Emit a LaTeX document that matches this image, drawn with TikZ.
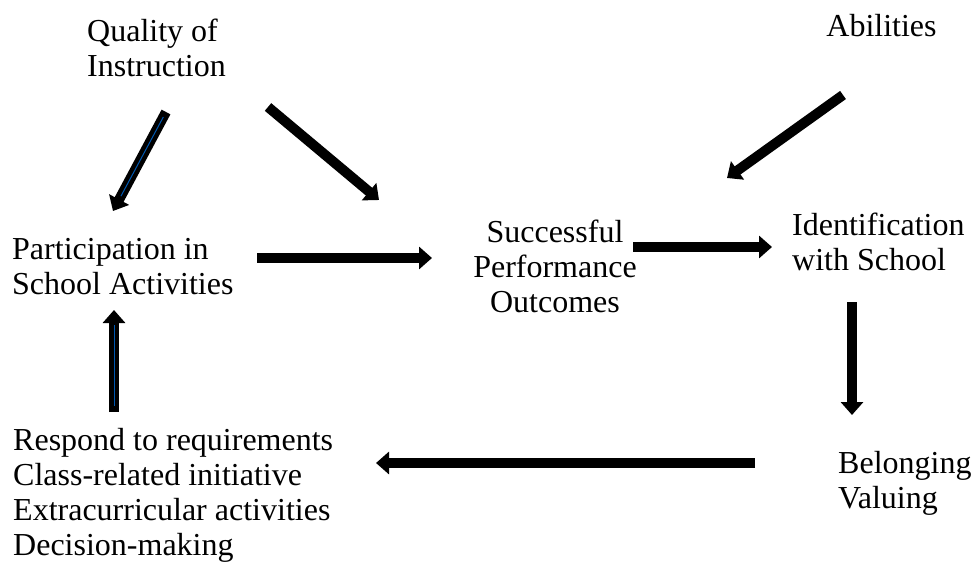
\documentclass[tikz,border=0pt]{standalone}
\usepackage{fontspec}
\setmainfont{Liberation Serif}
\usetikzlibrary{arrows.meta,calc}

\begin{document}
\begin{tikzpicture}[x=1pt,y=-1pt]

      \useasboundingbox (0,0) rectangle (973,567);

      \begin{scope}[every node/.style={inner sep=0,align=left,anchor=west,font=\fontsize{32}{35}\selectfont}]
        \node (quality)  at (87,47.5) {Quality of\\Instruction};
        \node[anchor=center] (abilities) at (881.5,26) {Abilities};
        \node (particip) at (12,266.5) {Participation in\\School Activities};
        \node[align=center,anchor=center] (outcomes) at (555,266.5) {Successful\\Performance\\Outcomes};
        \node (ident) at (792,241.5) {Identification\\with School};
        \node (belong) at (838,483.5) {Belonging\\Valuing};
        \node (respond) at (13,495) {Respond to requirements\\Class-related initiative\\Extracurricular activities\\Decision-making};
      \end{scope}

      % arrow ends
      \coordinate (q1) at (166,112);
      \coordinate (q2) at (113,211);
      \coordinate (q3) at (268,107);
      \coordinate (q4) at (379,200);
      \coordinate (a1) at (843,95);
      \coordinate (a2) at (727,178);
      \coordinate (p1) at (257,258);
      \coordinate (p2) at (432,258);
      \coordinate (o1) at (633,247);
      \coordinate (o2) at (772,247);
      \coordinate (i1) at (852,302);
      \coordinate (i2) at (852,415);
      \coordinate (b1) at (755,463);
      \coordinate (b2) at (376,463);
      \coordinate (r1) at (114,412);
      \coordinate (r2) at (114,310);

      \begin{scope}[every edge/.style={draw,line width=10pt,-{Triangle[width=22pt,length=13pt]}}]
        \path (q1) edge (q2);
        \path (q3) edge (q4);
        \path (a1) edge (a2);
        \path (p1) edge (p2);
        \path (o1) edge (o2);
        \path (i1) edge (i2);
        \path (b1) edge (b2);
        \path (r1) edge (r2);
      \end{scope}

      % thin blue centre lines
      \begin{scope}[every edge/.style={draw,line width=1pt,color=blue!50!cyan!70!black}]
        \path ($(q1)!0.05!(q2)$) edge ($(q1)!0.85!(q2)$);
        \path ($(r1)!0.06!(r2)$) edge ($(r1)!0.85!(r2)$);
      \end{scope}

    \end{tikzpicture}
\end{document}
